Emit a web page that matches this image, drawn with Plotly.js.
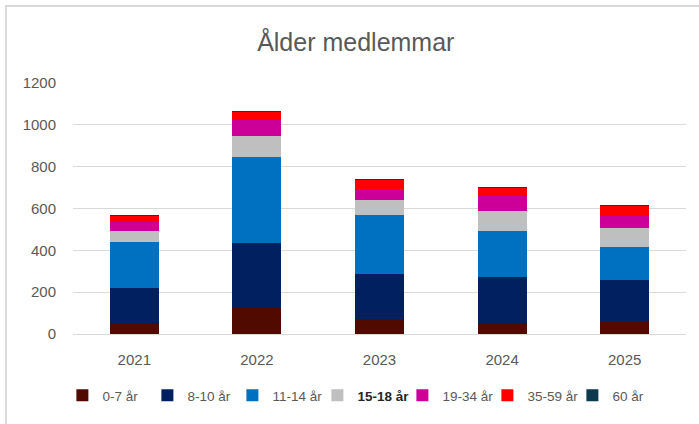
<!DOCTYPE html>
<html>
<head>
<meta charset="utf-8">
<script src="https://cdn.plot.ly/plotly-3.0.1.min.js"></script>
<style>html,body{margin:0;padding:0;background:#fff;}#chart{width:699px;height:424px;}</style>
</head>
<body>
<div id="chart"></div>
<script>
const years = ['2021', '2022', '2023', '2024', '2025'];
const seriesNames = ['0-7 år', '8-10 år', '11-14 år', '15-18 år', '19-34 år', '35-59 år', '60 år'];
const age0_7   = [52, 124, 71, 49, 60];
const age8_10  = [170, 312, 216, 223, 197];
const age11_14 = [219, 408, 284, 219, 159];
const age15_18 = [52, 102, 68, 97, 92];
const age19_34 = [43, 76, 52, 74, 57];
const age35_59 = [30, 38, 46, 38, 46];
const age60    = [3, 6, 6, 5, 5];
const colors = ['#500a00', '#002060', '#0070c0', '#bfbfbf', '#cc0099', '#ff0000', '#0e3a50'];
const yTicks = [0, 200, 400, 600, 800, 1000, 1200];

const allSeries = [age0_7, age8_10, age11_14, age15_18, age19_34, age35_59, age60];
const traces = allSeries.map((vals, i) => ({
  type: 'bar',
  x: years,
  y: vals,
  name: i === 3 ? '<b><span style="color:#262626">' + seriesNames[i] + '</span></b>' : seriesNames[i],
  marker: {color: colors[i], line: {width: 0}},
  hoverinfo: 'x+y+name'
}));

const layout = {
  width: 699, height: 424,
  barmode: 'stack',
  bargap: 0.6,
  paper_bgcolor: '#ffffff',
  plot_bgcolor: '#ffffff',
  font: {family: '"Liberation Sans", Arial, sans-serif', color: '#595959', size: 15},
  title: {text: 'Ålder medlemmar', font: {size: 25, color: '#595959'}, x: 0.509, xanchor: 'center', y: 0.9, yanchor: 'middle', xref: 'container'},
  margin: {l: 73, r: 13, t: 83, b: 90},
  xaxis: {
    type: 'category',
    showgrid: false,
    showline: true,
    linecolor: '#d9d9d9',
    linewidth: 1,
    ticks: '',
    tickfont: {size: 15, color: '#595959'},
    ticklabelstandoff: 12
  },
  yaxis: {
    range: [0, 1200],
    tickvals: yTicks,
    ticktext: yTicks.map(String),
    showgrid: true,
    gridcolor: '#d9d9d9',
    gridwidth: 1,
    zeroline: false,
    showline: false,
    ticks: '',
    tickfont: {size: 15, color: '#595959'},
    ticklabelstandoff: 16
  },
  legend: {
    orientation: 'h',
    x: 0.468, xanchor: 'center',
    y: -0.245, yanchor: 'middle',
    traceorder: 'normal',
    itemwidth: 30,
    entrywidth: 40,
    entrywidthmode: 'pixels',
    font: {size: 13.5, color: '#595959'},
    bgcolor: 'rgba(0,0,0,0)'
  },
  shapes: [{
    type: 'rect', xref: 'paper', yref: 'paper',
    x0: -0.1093, x1: 1.05, y0: -0.5, y1: 1.3068,
    line: {color: '#d9d9d9', width: 2}, fillcolor: 'rgba(0,0,0,0)', layer: 'below'
  }]
};

Plotly.newPlot('chart', traces, layout, {displayModeBar: false, staticPlot: true});
</script>
</body>
</html>
